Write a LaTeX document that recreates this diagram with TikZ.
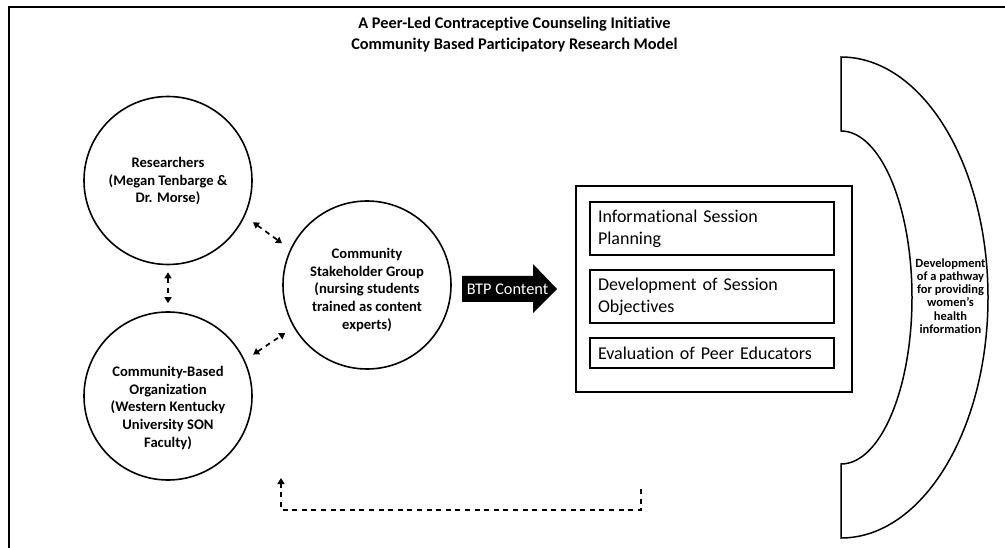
\documentclass[tikz,border=0pt]{standalone}
\usepackage{fontspec}
\setmainfont{Carlito}[Ligatures={NoCommon}]
\usetikzlibrary{arrows.meta}
\begin{document}
\begin{tikzpicture}[x=1pt,y=-1pt,
  circ/.style={circle, draw, line width=1.6pt, minimum size=168pt, inner sep=0pt},
  ctext/.style={align=center, inner sep=0pt, font=\bfseries\fontsize{14.6}{17.6}\selectfont},
  ibox/.style={draw, line width=1.4pt, minimum width=244pt, text width=228pt, inner xsep=8pt, inner ysep=2pt, align=left, font=\fontsize{18}{22}\selectfont},
  tipx/.tip={Triangle[length=6pt,width=7pt]},
  dashline/.style={line width=1.7pt, dash pattern=on 5pt off 4.6pt},
  dasharr/.style={dashline, tipx-tipx},
]
\useasboundingbox (0,0) rectangle (1005,548);
\draw[line width=1.5pt] (9,7) rectangle (1015,560);

\node[align=center, font=\bfseries\fontsize{16.3}{21}\selectfont] (title) at (514.5,34.5)
  {A Peer-Led Contraceptive Counseling Initiative\\Community Based Participatory Research Model};

% circles
\node[circ] (res) at (168,180.5) {};
\node[ctext] (restext) at (168,181) {Researchers\\(Megan Tenbarge \&\\Dr. Morse)};
\node[circ] (cbo) at (168,396) {};
\node[ctext] (cbotext) at (168,408) {Community-Based\\Organization\\(Western Kentucky\\University SON\\Faculty)};
\node[circ] (stake) at (367,285) {};
\node[ctext] (staketext) at (367,290) {Community\\Stakeholder Group\\(nursing students\\trained as content\\experts)};

% dashed double arrows
\draw[dasharr, shorten <=10pt, shorten >=10pt] (res.-25) -- (stake.155);
\draw[dasharr, shorten <=10pt, shorten >=10pt] (cbo.25) -- (stake.210);
\draw[dasharr, shorten <=7pt, shorten >=8pt] (res.south) -- (cbo.north);

% block arrow
\fill (462,276) -- (533,276) -- (533,264) -- (557,289) -- (533,313) -- (533,302) -- (462,302) -- cycle;
\node[text=white, font=\fontsize{16.3}{19}\selectfont, inner sep=0pt] (btp) at (507.5,289) {BTP Content};

% process box
\node[draw, line width=1.5pt, minimum width=276pt, minimum height=206pt] (proc) at (714,289) {};
\node[ibox, minimum height=53pt] (b1) at (712,228.5) {Informational Session\\Planning};
\node[ibox, minimum height=53pt] (b2) at (712,296.5) {Development of Session\\Objectives};
\node[ibox, minimum height=30pt] (b3) at (712,353) {Evaluation of Peer Educators};

% crescent
\draw[line width=1.5pt] (841,57) -- (841,131)
  arc[start angle=90, end angle=-90, x radius=71pt, y radius=166.5pt]
  -- (841,538)
  arc[start angle=-90, end angle=90, x radius=147pt, y radius=240.5pt] -- cycle;
\node[align=center, inner sep=0pt, font=\bfseries\fontsize{12.5}{13.2}\selectfont] (pathway) at (950.5,296)
  {Development\\of a pathway\\for providing\\women’s\\health\\information};

% feedback connector
\coordinate (fbA) at (641,489);
\coordinate (fbB) at (281,478);
\draw[dashline, -tipx] (fbA) -- ++(0,21) -| (fbB);
\end{tikzpicture}
\end{document}
